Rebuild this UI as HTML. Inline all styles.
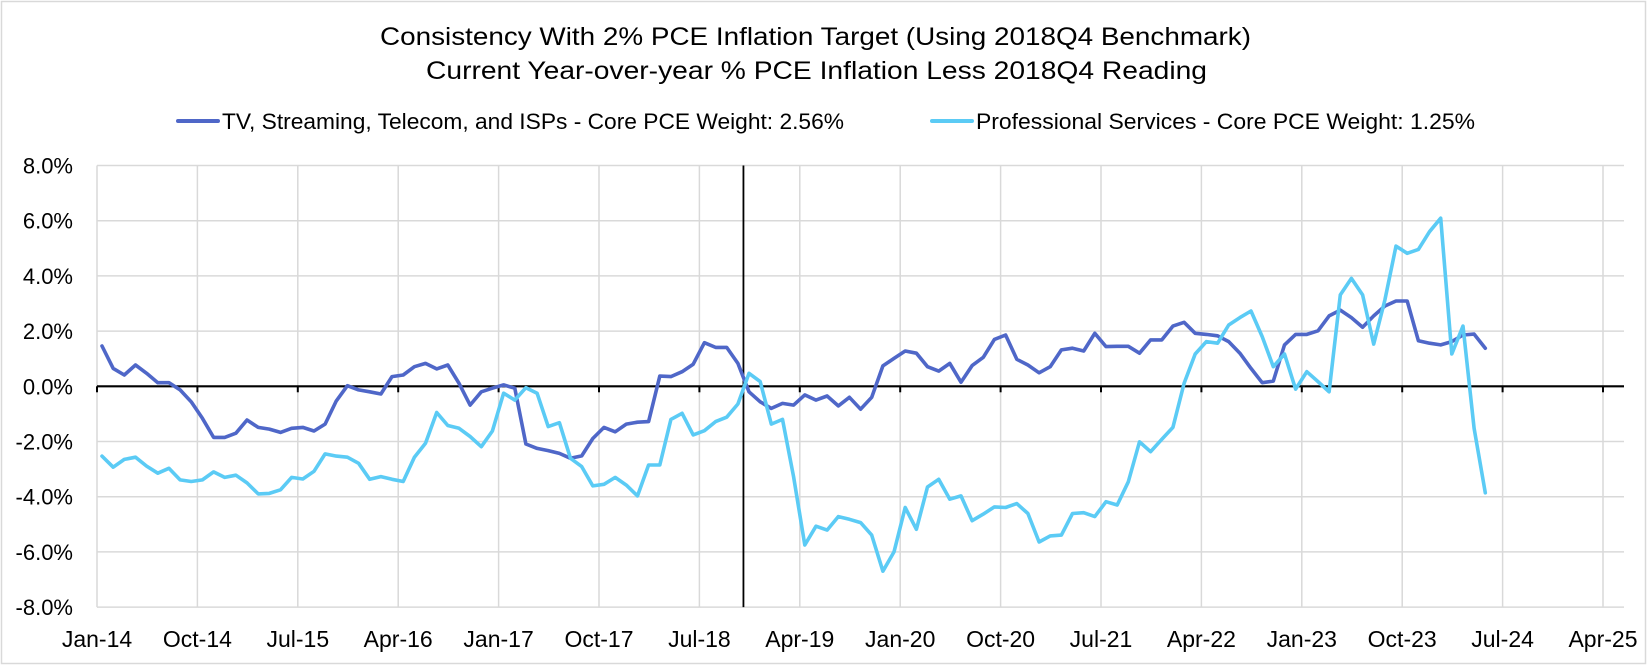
<!DOCTYPE html>
<html><head><meta charset="utf-8"><style>
html,body{margin:0;padding:0;background:#fff;}
svg{display:block;font-family:"Liberation Sans",sans-serif;}
</style></head><body>
<svg id="chart" width="1648" height="668" viewBox="0 0 1648 668" xmlns="http://www.w3.org/2000/svg">
<rect x="1.5" y="1.5" width="1644" height="662" fill="#fff" stroke="#d9d9d9" stroke-width="1.5"/>
<text x="380" y="45" font-size="25" fill="#000" textLength="871" lengthAdjust="spacingAndGlyphs">Consistency With 2% PCE Inflation Target (Using 2018Q4 Benchmark)</text>
<text x="426" y="79" font-size="25" fill="#000" textLength="781" lengthAdjust="spacingAndGlyphs">Current Year-over-year % PCE Inflation Less 2018Q4 Reading</text>
<g>
<line x1="178" y1="121" x2="218" y2="121" stroke="#4F67C8" stroke-width="4" stroke-linecap="round"/>
<text x="222" y="129" font-size="22" textLength="622" lengthAdjust="spacingAndGlyphs">TV, Streaming, Telecom, and ISPs - Core PCE Weight: 2.56%</text>
<line x1="932" y1="121" x2="972" y2="121" stroke="#5BCBF5" stroke-width="4" stroke-linecap="round"/>
<text x="976" y="129" font-size="22" textLength="499" lengthAdjust="spacingAndGlyphs">Professional Services - Core PCE Weight: 1.25%</text>
</g>
<g id="grid"></g>
<g id="axes"></g>
<g id="series"></g>
</svg>
<script>
const xTickLabels = ["Jan-14","Oct-14","Jul-15","Apr-16","Jan-17","Oct-17","Jul-18","Apr-19","Jan-20","Oct-20","Jul-21","Apr-22","Jan-23","Oct-23","Jul-24","Apr-25"];
const yTicks = [8,6,4,2,0,-2,-4,-6,-8];
const benchmarkMonth = 57.5;
const tvStreaming = [1.46,0.65,0.41,0.77,0.47,0.13,0.13,-0.13,-0.56,-1.16,-1.85,-1.85,-1.70,-1.22,-1.49,-1.55,-1.67,-1.52,-1.49,-1.62,-1.37,-0.53,0.02,-0.13,-0.20,-0.28,0.35,0.41,0.71,0.83,0.63,0.77,0.11,-0.68,
-0.20,-0.07,0.05,-0.07,-2.09,-2.25,-2.33,-2.43,-2.61,-2.52,-1.89,-1.49,-1.65,-1.37,-1.30,-1.28,0.37,0.35,0.53,0.80,1.58,1.41,1.41,0.83,-0.20,-0.56,-0.80,-0.62,-0.68,-0.31,-0.50,-0.35,-0.71,
-0.40,-0.83,-0.40,0.74,1.01,1.28,1.20,0.71,0.55,0.83,0.15,0.75,1.05,1.70,1.86,0.98,0.77,0.49,0.71,1.32,1.38,1.28,1.92,1.44,1.45,1.45,1.20,1.68,1.68,2.18,2.32,1.92,1.88,
1.83,1.62,1.20,0.65,0.13,0.19,1.50,1.88,1.88,2.01,2.55,2.76,2.49,2.14,2.55,2.91,3.09,3.09,1.65,1.56,1.50,1.62,1.86,1.89,1.38];
const professionalServices = [-2.53,-2.93,-2.65,-2.57,-2.89,-3.15,-2.97,-3.39,-3.45,-3.39,-3.10,-3.30,-3.22,-3.50,-3.90,-3.88,-3.75,-3.30,-3.36,-3.08,-2.45,-2.53,-2.57,-2.79,-3.37,-3.27,-3.37,-3.45,-2.57,-2.06,-0.95,-1.42,-1.52,-1.82,
-2.19,-1.62,-0.25,-0.50,-0.05,-0.25,-1.46,-1.32,-2.61,-2.91,-3.61,-3.55,-3.30,-3.58,-3.97,-2.85,-2.85,-1.20,-0.98,-1.76,-1.61,-1.28,-1.12,-0.64,0.47,0.17,-1.37,-1.20,-3.28,-5.75,-5.07,-5.21,-4.72,
-4.82,-4.94,-5.39,-6.70,-6.00,-4.39,-5.18,-3.65,-3.37,-4.09,-3.97,-4.87,-4.63,-4.37,-4.39,-4.25,-4.61,-5.64,-5.42,-5.39,-4.61,-4.58,-4.72,-4.18,-4.30,-3.46,-2.01,-2.37,-1.92,-1.49,0.11,1.17,1.62,
1.56,2.22,2.49,2.73,1.80,0.71,1.17,-0.10,0.53,0.17,-0.20,3.31,3.91,3.31,1.53,3.13,5.08,4.82,4.96,5.60,6.09,1.17,2.18,-1.52,-3.86];

const NS = "http://www.w3.org/2000/svg";
const plotL = 97, plotR = 1624, monthsPerTick = 9;
const tickSpacing = 100.4;
const pxPerMonth = tickSpacing / monthsPerTick;
const pointOffset = 5;
function xMonth(m){ return plotL + pointOffset + m * pxPerMonth; }
function xTick(i){ return plotL + i * tickSpacing; }
function yVal(v){ return 386.3 - v * 27.6; }
function mk(tag, attrs, parent){ const e=document.createElementNS(NS,tag); for(const k in attrs) e.setAttribute(k,attrs[k]); parent.appendChild(e); return e; }

const grid = document.getElementById('grid');
const axes = document.getElementById('axes');
const series = document.getElementById('series');

yTicks.forEach(v=>{
  if (v !== 0) {
    const gl = mk('line',{x1:plotL,x2:plotR,y1:yVal(v),y2:yVal(v),stroke:'#d9d9d9','stroke-width':1.5},grid);
    
    
  }
  const t = mk('text',{x:73,y:yVal(v)+8,'font-size':22,'text-anchor':'end',fill:'#000'},axes);
  t.textContent = v.toFixed(1)+'%';
  
  
});
xTickLabels.forEach((lab,i)=>{
  const x = xTick(i);
  const gl = mk('line',{x1:x,x2:x,y1:yVal(8),y2:yVal(-8),stroke:'#d9d9d9','stroke-width':1.5},grid);
  
  
  const tk = mk('line',{x1:x,x2:x,y1:yVal(0),y2:yVal(0)+6,stroke:'#000','stroke-width':2},axes);
  
  
  const t = mk('text',{x:x,y:647,'font-size':23,'text-anchor':'middle',fill:'#000'},axes);
  t.textContent = lab;
  
  
});
const zero = mk('line',{x1:plotL,x2:plotR,y1:yVal(0),y2:yVal(0),stroke:'#000','stroke-width':2.2},axes);


const bl = mk('line',{x1:xMonth(benchmarkMonth),x2:xMonth(benchmarkMonth),y1:yVal(8),y2:yVal(-8),stroke:'#000','stroke-width':1.8},axes);



function drawLine(vals,color,name){
  const d = vals.map((v,i)=>(i?'L':'M')+xMonth(i).toFixed(1)+','+yVal(v).toFixed(1)).join(' ');
  const p = mk('path',{d:d,fill:'none',stroke:color,'stroke-width':3.6,'stroke-linejoin':'round','stroke-linecap':'round'},series);
  
  
}
drawLine(tvStreaming,'#4F67C8','tv-streaming-series-line');
drawLine(professionalServices,'#5BCBF5','professional-services-series-line');
</script>
</body></html>
